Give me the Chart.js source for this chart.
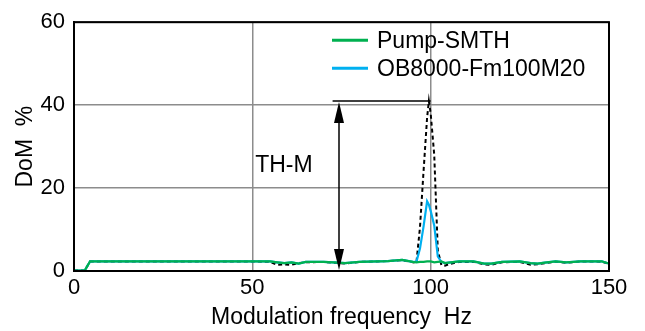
<!DOCTYPE html>
<html>
<head>
<meta charset="utf-8">
<script src="https://cdn.jsdelivr.net/npm/chart.js@4.4.0/dist/chart.umd.min.js"></script>
<style>
  html, body { margin: 0; padding: 0; background: #fff; }
  #wrap { width: 645px; height: 331px; }
</style>
</head>
<body>
<div id="wrap"><canvas id="chart" width="645" height="331"></canvas></div>
<script>
// modulation frequency, Hz
const freq = [0, 3, 4.5, 10, 20, 30, 40, 50, 55, 57, 59, 61, 63, 65, 70, 74, 76, 80, 85, 88, 92, 95,
  96, 97, 98, 99, 99.5, 100, 101, 102, 103, 104, 105, 108, 112, 115, 117, 120, 125, 128, 130, 132,
  135, 138, 142, 146, 148, 150];
// DoM %
const pumpSmth = [0.1, 0.1, 2.3, 2.3, 2.3, 2.3, 2.3, 2.3, 2.3, 2.1, 1.9, 2.1, 1.8, 2.2, 2.2, 2.0, 1.9, 2.2, 2.3, 2.4, 2.7, 2.2,
  2.1, 2.2, 2.2, 2.3, 2.3, 2.3, 2.1, 2.2, 2.3, 1.9, 2.0, 2.3, 2.3, 1.8, 1.8, 2.2, 2.3, 1.9, 1.8, 2.0,
  2.3, 2.1, 2.3, 2.3, 2.3, 1.8];
const ob8000 = [0.1, 0.1, 2.3, 2.3, 2.3, 2.3, 2.3, 2.3, 2.3, 2.1, 1.9, 2.1, 1.8, 2.2, 2.2, 2.0, 1.9, 2.2, 2.3, 2.4, 2.7, 2.2,
  2.2, 5.4, 10.7, 16.8, 16.0, 14.5, 11.0, 3.5, 2.2, 1.9, 2.0, 2.3, 2.3, 1.8, 1.8, 2.2, 2.3, 1.9, 1.8, 2.0,
  2.3, 2.1, 2.3, 2.3, 2.3, 1.8];
// dashed trace (not in legend)
const thTrace = [0.1, 0.1, 2.3, 2.3, 2.3, 2.3, 2.3, 2.3, 2.2, 1.5, 1.6, 1.5, 1.9, 2.1, 2.2, 1.9, 1.8, 2.2, 2.3, 2.4, 2.6, 2.1,
  2.0, 10.5, 24, 37, 41, 38, 28, 5, 1.4, 1.3, 1.6, 2.2, 2.2, 1.6, 1.5, 2.1, 2.2, 1.5, 1.6, 1.9,
  2.2, 2.0, 2.3, 2.3, 2.2, 1.8];

const seriesNames = ['Pump-SMTH', 'OB8000-Fm100M20'];
const xTicks = [0, 50, 100, 150];
const yTicks = [0, 20, 40, 60];

// TH-M marker, data units
const thLevel = 41;
const thSpan = [72.5, 100];
const thArrowAt = 74.3;
const thLabel = { text: 'TH-M', x: 50.8, y: 25.3 };

const FONT = '"Liberation Sans", Arial, sans-serif';

const pts = ys => freq.map((f, i) => ({ x: f, y: ys[i] }));

// white bg, plot frame, TH-M marker, legend
const extras = {
  id: 'extras',
  beforeDraw(chart) {
    const ctx = chart.ctx;
    ctx.save();
    ctx.fillStyle = '#fff';
    ctx.fillRect(0, 0, chart.width, chart.height);
    ctx.restore();
  },
  afterDatasetsDraw(chart) {
    const { ctx, chartArea: ca, scales: { x, y } } = chart;
    ctx.save();

    // frame
    ctx.strokeStyle = '#000';
    ctx.lineWidth = 2;
    ctx.strokeRect(ca.left, ca.top, ca.right - ca.left, ca.bottom - ca.top);

    // horizontal level line
    const yl = y.getPixelForValue(thLevel);
    ctx.lineWidth = 1.5;
    ctx.beginPath();
    ctx.moveTo(x.getPixelForValue(thSpan[0]), yl);
    ctx.lineTo(x.getPixelForValue(thSpan[1]), yl);
    ctx.stroke();

    // double arrow
    const xa = x.getPixelForValue(thArrowAt);
    const y0 = y.getPixelForValue(0);
    const ah = 22, aw = 5;
    ctx.beginPath();
    ctx.moveTo(xa, yl + ah);
    ctx.lineTo(xa, y0 - ah);
    ctx.stroke();
    ctx.fillStyle = '#000';
    ctx.beginPath();
    ctx.moveTo(xa, yl + 1);
    ctx.lineTo(xa - aw, yl + ah);
    ctx.lineTo(xa + aw, yl + ah);
    ctx.closePath();
    ctx.fill();
    ctx.beginPath();
    ctx.moveTo(xa, y0 - 1);
    ctx.lineTo(xa - aw, y0 - ah);
    ctx.lineTo(xa + aw, y0 - ah);
    ctx.closePath();
    ctx.fill();

    // label
    ctx.font = '23px ' + FONT;
    ctx.textAlign = 'left';
    ctx.textBaseline = 'middle';
    ctx.fillText(thLabel.text, x.getPixelForValue(thLabel.x), y.getPixelForValue(thLabel.y));

    // legend
    ctx.font = '23px ' + FONT;
    const items = chart.data.datasets.filter(d => seriesNames.includes(d.label));
    items.forEach((d, i) => {
      const ly = ca.top + 18 + i * 28;
      ctx.strokeStyle = d.borderColor;
      ctx.lineWidth = 3;
      ctx.beginPath();
      ctx.moveTo(ca.right - 277, ly);
      ctx.lineTo(ca.right - 241, ly);
      ctx.stroke();
      ctx.fillStyle = '#000';
      ctx.fillText(d.label, ca.right - 232, ly + 1);
    });
    ctx.restore();
  }
};

new Chart(document.getElementById('chart'), {
  type: 'line',
  data: {
    datasets: [
      { label: seriesNames[0], data: pts(pumpSmth), borderColor: '#00b050', borderWidth: 2.2, order: 1 },
      { label: seriesNames[1], data: pts(ob8000), borderColor: '#00b0f0', borderWidth: 2.2, order: 2 },
      { label: 'TH', data: pts(thTrace), borderColor: '#000', borderWidth: 2, borderDash: [4, 3], order: 3 }
    ]
  },
  options: {
    responsive: false,
    devicePixelRatio: 1,
    animation: false,
    layout: { padding: { left: 12, right: 36, top: 15, bottom: 0 } },
    elements: { point: { radius: 0 }, line: { tension: 0, fill: false } },
    plugins: { legend: { display: false }, tooltip: { enabled: false } },
    scales: {
      x: {
        type: 'linear',
        min: 0,
        max: 150,
        afterBuildTicks: s => { s.ticks = xTicks.map(v => ({ value: v })); },
        afterFit: s => { s.height = 60; },
        grid: { color: '#8c8c8c', lineWidth: 1.5, drawTicks: false },
        border: { color: '#000', width: 2 },
        ticks: { color: '#000', font: { size: 22, family: FONT }, padding: 4, maxRotation: 0 },
        title: { display: true, text: 'Modulation frequency  Hz', color: '#000', font: { size: 23, family: FONT }, padding: 0 }
      },
      y: {
        min: 0,
        max: 60,
        afterBuildTicks: s => { s.ticks = yTicks.map(v => ({ value: v })); },
        afterFit: s => { s.width = 62; },
        grid: { color: '#8c8c8c', lineWidth: 1.5, drawTicks: false },
        border: { color: '#000', width: 2 },
        ticks: { color: '#000', font: { size: 22, family: FONT }, padding: 9 },
        title: { display: true, text: 'DoM  %', color: '#000', font: { size: 23, family: FONT }, padding: 0 }
      }
    }
  },
  plugins: [extras]
});
</script>
</body>
</html>
